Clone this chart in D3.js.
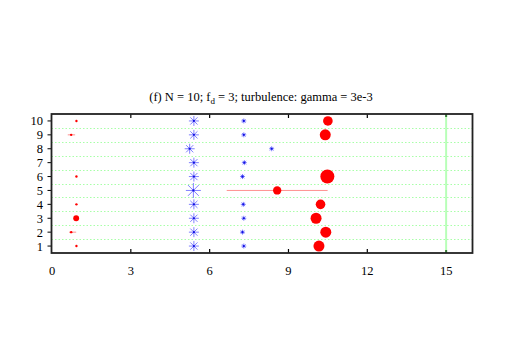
<!DOCTYPE html>
<html>
<head>
<meta charset="utf-8">
<script src="https://cdn.jsdelivr.net/npm/d3@7"></script>
<style>
  body { margin: 0; background: #fff; }
  svg { display: block; }
  text { font-family: 'Liberation Serif', 'DejaVu Serif', serif; }
</style>
</head>
<body>
<svg id="chart" width="506" height="354"></svg>
<script>
// rows 1..10
var rows = [1, 2, 3, 4, 5, 6, 7, 8, 9, 10];

// left red points (null = not present)
var leftX = [0.93, 0.73, 0.92, 0.93, null, 0.93, null, null, 0.73, 0.93];
var leftS = [1, 1, 6, 1, null, 1, null, null, 1, 1];
var leftLo = [null, 0.65, null, null, null, null, null, null, 0.6, null];
var leftHi = [null, 0.92, null, null, null, null, null, null, 0.88, null];

// right red circles
var rightX = [10.16, 10.42, 10.05, 10.22, 8.57, 10.48, null, null, 10.4, 10.5];
var rightS = [21, 21, 21, 16, 12, 34, null, null, 21, 16];
var rightLo = [null, null, null, null, 6.65, null, null, null, null, null];
var rightHi = [null, null, null, null, 10.49, null, null, null, null, null];

// big blue asterisks
var bigX = [5.4, 5.4, 5.4, 5.4, 5.38, 5.4, 5.4, 5.24, 5.4, 5.4];
var bigS = [5, 5, 5, 5, 7.5, 5, 5, 5, 5, 5];

// small blue asterisks
var smallX = [7.3, 7.25, 7.3, 7.28, null, 7.25, 7.32, 8.36, 7.3, 7.3];

var xTicks = [0, 3, 6, 9, 12, 15];
var yTicks = [1, 2, 3, 4, 5, 6, 7, 8, 9, 10];
var gridY = [1.5, 2.5, 3.5, 4.5, 5.5, 6.5, 7.5, 8.5, 9.5];
var refX = 15;

var L = 51.5, R = 472.5, T = 114, B = 253;
var x = d3.scaleLinear().domain([0, 16]).range([52, 472.4]);
var y = d3.scaleLinear().domain([0.5, 10.5]).range([B, T]);
var rSc = d3.scaleSqrt().domain([0, 34]).range([0, 7]);

var svg = d3.select('#chart');

// title
var title = svg.append('text')
  .attr('x', 261).attr('y', 101)
  .attr('text-anchor', 'middle')
  .attr('font-size', 12.5)
  .attr('fill', '#000');
title.append('tspan').text('(f) N = 10; f');
title.append('tspan').attr('font-size', 9).attr('dy', 3).text('d');
title.append('tspan').attr('dy', -3).text(' = 3; turbulence: gamma = 3e-3');

// grid
svg.append('g')
  .selectAll('line')
  .data(gridY)
  .enter()
  .append('line')
  .attr('x1', L).attr('x2', R)
  .attr('y1', (d) => Math.round(y(d)) + 0.5)
  .attr('y2', (d) => Math.round(y(d)) + 0.5)
  .attr('stroke', '#a8ffa8')
  .attr('stroke-width', 1)
  .attr('stroke-dasharray', '1.5,2');

// vertical reference line
svg.append('line')
  .attr('x1', x(refX)).attr('x2', x(refX))
  .attr('y1', T).attr('y2', B)
  .attr('stroke', '#b8ffb8')
  .attr('stroke-width', 2);
svg.append('g').selectAll('line')
  .data([[T, T + 3], [B - 3, B]])
  .enter().append('line')
  .attr('x1', x(refX)).attr('x2', x(refX))
  .attr('y1', (d) => d[0]).attr('y2', (d) => d[1])
  .attr('stroke', '#3a7a3a').attr('stroke-width', 2);

// x ticks (in, mirrored)
var xt = svg.append('g');
xTicks.slice(1, 5).forEach(function (t) {
  xt.append('line').attr('x1', x(t)).attr('x2', x(t)).attr('y1', T).attr('y2', T + 4)
    .attr('stroke', '#000').attr('stroke-width', 1.2);
  xt.append('line').attr('x1', x(t)).attr('x2', x(t)).attr('y1', B).attr('y2', B - 4)
    .attr('stroke', '#000').attr('stroke-width', 1.2);
});
xt.selectAll('text')
  .data(xTicks)
  .enter()
  .append('text')
  .attr('x', (d) => x(d))
  .attr('y', 275)
  .attr('text-anchor', 'middle')
  .attr('font-size', 12.5)
  .text((d) => d);

// y ticks
var yt = svg.append('g');
yt.selectAll('line')
  .data(yTicks)
  .enter()
  .append('line')
  .attr('x1', L - 4).attr('x2', L)
  .attr('y1', (d) => y(d)).attr('y2', (d) => y(d))
  .attr('stroke', '#000');
yt.selectAll('text')
  .data(yTicks)
  .enter()
  .append('text')
  .attr('x', 43)
  .attr('y', (d) => y(d) + 4.5)
  .attr('text-anchor', 'end')
  .attr('font-size', 12.5)
  .text((d) => d);

function pts(xs, extra) {
  var out = [];
  rows.forEach(function (r, i) {
    if (xs[i] == null) return;
    out.push(Object.assign({ row: r, x: xs[i] }, extra(i)));
  });
  return out;
}

var leftPts = pts(leftX, (i) => ({ s: leftS[i], lo: leftLo[i], hi: leftHi[i] }));
var rightPts = pts(rightX, (i) => ({ s: rightS[i], lo: rightLo[i], hi: rightHi[i] }));
var bigPts = pts(bigX, (i) => ({ s: bigS[i] }));
var smallPts = pts(smallX, () => ({ s: 2.5 }));

// error bars
var errs = leftPts.concat(rightPts).filter((d) => d.lo != null);
svg.append('g')
  .selectAll('line')
  .data(errs)
  .enter()
  .append('line')
  .attr('x1', (d) => x(d.lo)).attr('x2', (d) => x(d.hi))
  .attr('y1', (d) => y(d.row)).attr('y2', (d) => y(d.row))
  .attr('stroke', '#ff9090')
  .attr('stroke-width', 1);

// asterisks
function star(r) {
  var d = r * 0.72;
  return 'M' + -r + ' 0 L' + r + ' 0 M0 ' + -r + ' L0 ' + r +
    ' M' + -d + ' ' + -d + ' L' + d + ' ' + d +
    ' M' + -d + ' ' + d + ' L' + d + ' ' + -d;
}
var stars = bigPts.concat(smallPts);
var sg = svg.append('g')
  .selectAll('g')
  .data(stars)
  .enter()
  .append('g')
  .attr('transform', (d) => 'translate(' + x(d.x) + ',' + y(d.row) + ')');
sg.append('path')
  .attr('d', (d) => star(d.s))
  .attr('fill', 'none')
  .attr('stroke', '#8080ff')
  .attr('stroke-width', 1);
sg.append('circle')
  .attr('r', 1.1)
  .attr('fill', '#1010e0');

// red circles
svg.append('g')
  .selectAll('circle')
  .data(leftPts.concat(rightPts))
  .enter()
  .append('circle')
  .attr('cx', (d) => x(d.x))
  .attr('cy', (d) => y(d.row))
  .attr('r', (d) => rSc(d.s))
  .attr('fill', '#ff0000');

// frame
svg.append('rect')
  .attr('x', L).attr('y', T)
  .attr('width', R - L).attr('height', B - T)
  .attr('fill', 'none')
  .attr('stroke', '#222')
  .attr('stroke-width', 1.8);
</script>
</body>
</html>
